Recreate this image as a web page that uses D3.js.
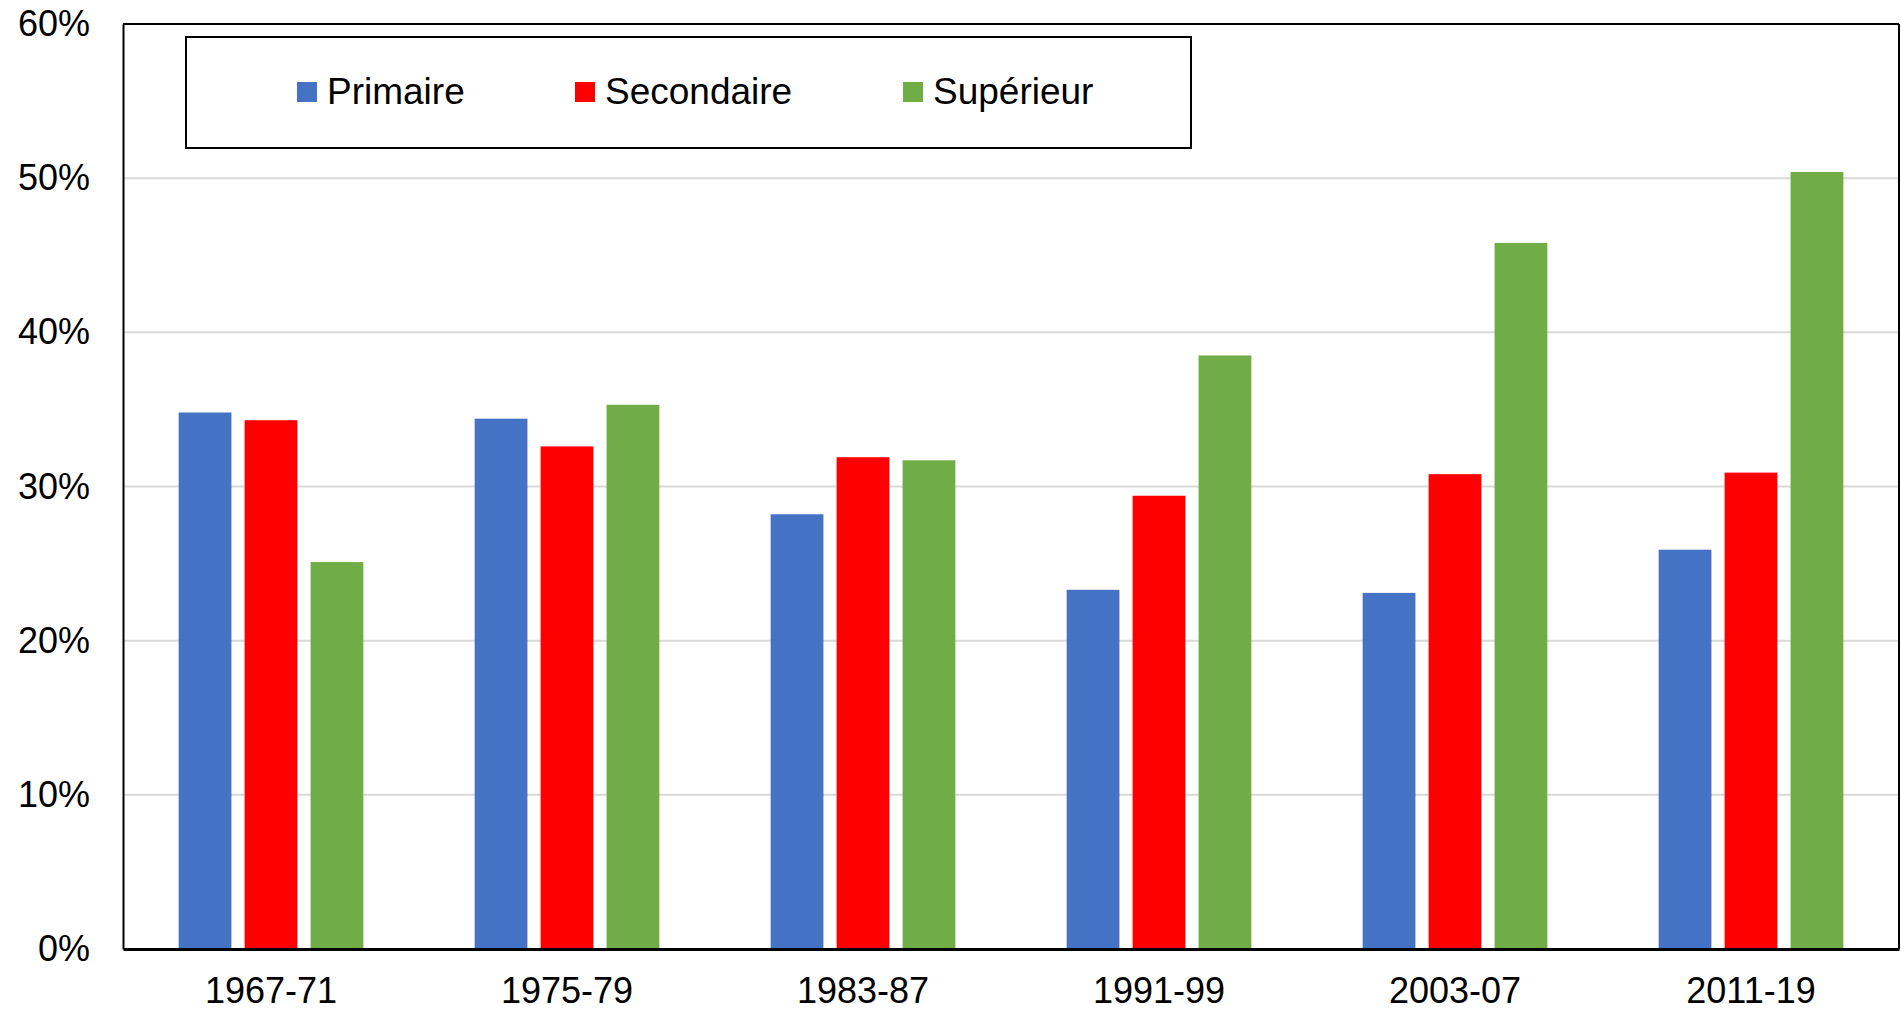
<!DOCTYPE html>
<html>
<head>
<meta charset="utf-8">
<script src="https://cdn.jsdelivr.net/npm/d3@7"></script>
<style>
  html, body { margin: 0; padding: 0; background: #fff; }
  svg { display: block; font-family: "Liberation Sans", Arial, sans-serif; }
</style>
</head>
<body>
<svg id="chart" width="1901" height="1011"></svg>
<script>
const categories = ["1967-71", "1975-79", "1983-87", "1991-99", "2003-07", "2011-19"];
const seriesNames = ["Primaire", "Secondaire", "Supérieur"];
const primaire   = [0.348, 0.344, 0.282, 0.233, 0.231, 0.259];
const secondaire = [0.343, 0.326, 0.319, 0.294, 0.308, 0.309];
const superieur  = [0.251, 0.353, 0.317, 0.385, 0.458, 0.504];
const yTicks = [0, 0.1, 0.2, 0.3, 0.4, 0.5, 0.6];
const colors = ["#4472C4", "#FF0000", "#70AD47"];

(function () {
const seriesValues = [primaire, secondaire, superieur];
const rows = categories.map((c, i) => ({
  cat: c,
  vals: seriesNames.map((s, j) => ({ key: s, value: seriesValues[j][i] }))
}));

const svg = d3.select("#chart");
const pLeft = 123, pRight = 1899, pTop = 24, pBottom = 949;

const x0 = d3.scaleBand().domain(categories).range([pLeft, pRight])
  .paddingInner(0.376).paddingOuter(0.188);
const x1 = d3.scaleBand().domain(seriesNames).range([0, x0.bandwidth()])
  .paddingInner(0.2).paddingOuter(0);
const y = d3.scaleLinear().domain([0, 0.6]).range([pBottom, pTop]);
const color = d3.scaleOrdinal().domain(seriesNames).range(colors);

// gridlines
svg.append("g").selectAll("line")
  .data(yTicks.filter(t => t > 0 && t < 0.6))
  .join("line")
  .attr("x1", pLeft).attr("x2", pRight)
  .attr("y1", d => y(d)).attr("y2", d => y(d))
  .attr("stroke", "#d9d9d9").attr("stroke-width", 2);

// bars
svg.append("g").selectAll("g")
  .data(rows).join("g")
  .attr("transform", d => `translate(${x0(d.cat)},0)`)
  .selectAll("rect")
  .data(d => d.vals).join("rect")
  .attr("x", d => x1(d.key))
  .attr("width", x1.bandwidth())
  .attr("y", d => y(d.value))
  .attr("height", d => y(0) - y(d.value))
  .attr("fill", d => color(d.key));

// plot frame (top and right)
svg.append("line").attr("x1", pLeft).attr("x2", pRight).attr("y1", pTop).attr("y2", pTop)
  .attr("stroke", "#000").attr("stroke-width", 2);
svg.append("line").attr("x1", pRight).attr("x2", pRight).attr("y1", pTop).attr("y2", pBottom)
  .attr("stroke", "#000").attr("stroke-width", 2);

// y axis
const yAxis = svg.append("g").attr("transform", `translate(${pLeft},0)`)
  .call(d3.axisLeft(y).tickValues(yTicks).tickFormat(d3.format(".0%")).tickSize(0).tickPadding(33));
yAxis.select(".domain").attr("stroke", "#000").attr("stroke-width", 2);
yAxis.selectAll("text").attr("font-size", 36).attr("fill", "#000")
  .attr("font-family", "Liberation Sans, Arial, sans-serif");

// x axis
const xAxis = svg.append("g").attr("transform", `translate(0,${pBottom})`)
  .call(d3.axisBottom(x0).tickSize(0).tickPadding(28));
xAxis.select(".domain").attr("stroke", "#000").attr("stroke-width", 3);
xAxis.selectAll("text").attr("font-size", 36).attr("fill", "#000")
  .attr("font-family", "Liberation Sans, Arial, sans-serif");

// legend
const legend = svg.append("g");
legend.append("rect").attr("x", 186).attr("y", 37).attr("width", 1005).attr("height", 111)
  .attr("fill", "#fff").attr("stroke", "#000").attr("stroke-width", 2);
const legendX = [297, 575, 903];
const items = legend.selectAll("g.item").data(seriesNames).join("g")
  .attr("class", "item")
  .attr("transform", (d, i) => `translate(${legendX[i]},0)`);
items.append("rect").attr("x", 0).attr("y", 82).attr("width", 20).attr("height", 20)
  .attr("fill", d => color(d));
items.append("text").attr("x", 30).attr("y", 104).attr("font-size", 37).attr("fill", "#000")
  .text(d => d);
})();
</script>
</body>
</html>
